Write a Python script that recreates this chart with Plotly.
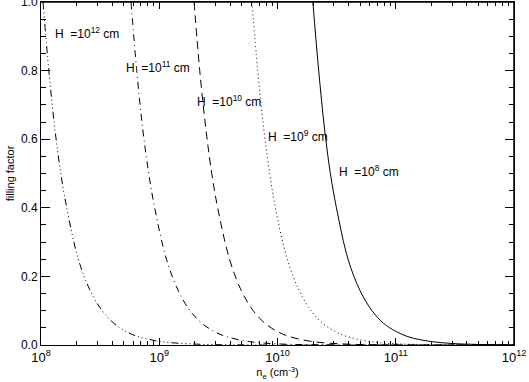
import plotly.graph_objects as go

# filling factor vs electron density, one curve per loop length H
h_labels = ["H\u00a0 =10<sup>8</sup> cm", "H\u00a0 =10<sup>9</sup> cm", "H\u00a0 =10<sup>10</sup> cm",
            "H\u00a0 =10<sup>11</sup> cm", "H\u00a0 =10<sup>12</sup> cm"]

ne_h8 = [1.99e10, 2.23e10, 2.5e10, 2.8e10, 3.15e10, 3.95e10, 5.0e10, 6.3e10, 7.9e10,
         1.0e11, 1.25e11, 1.58e11, 2.0e11, 3.0e11, 5.0e11, 1.0e12]
ff_h8 = [1.0, 0.80, 0.63, 0.50, 0.40, 0.25, 0.158, 0.10, 0.063,
         0.04, 0.025, 0.016, 0.010, 0.0044, 0.0016, 0.0004]

ne_h9 = [6.08e9, 6.8e9, 7.65e9, 8.6e9, 9.6e9, 1.21e10, 1.53e10, 1.92e10, 2.42e10,
         3.05e10, 3.84e10, 6.08e10, 1.0e11, 2.0e11, 1.0e12]
ff_h9 = [1.0, 0.80, 0.63, 0.50, 0.40, 0.25, 0.158, 0.10, 0.063,
         0.04, 0.025, 0.01, 0.0037, 0.0009, 0.00004]

ne_h10 = [1.97e9, 2.2e9, 2.48e9, 2.78e9, 3.12e9, 3.93e9, 4.95e9, 6.23e9, 7.85e9,
          9.9e9, 1.25e10, 1.97e10, 4.0e10, 1.0e11, 1.0e12]
ff_h10 = [1.0, 0.80, 0.63, 0.50, 0.40, 0.25, 0.158, 0.10, 0.063,
          0.04, 0.025, 0.01, 0.0024, 0.0004, 0.0]

ne_h11 = [5.77e8, 6.45e8, 7.25e8, 8.15e8, 9.15e8, 1.15e9, 1.45e9, 1.82e9, 2.3e9,
          2.9e9, 3.65e9, 5.77e9, 1.0e10, 3.0e10, 1.0e12]
ff_h11 = [1.0, 0.80, 0.63, 0.50, 0.40, 0.25, 0.158, 0.10, 0.063,
          0.04, 0.025, 0.01, 0.0033, 0.0004, 0.0]

ne_h12 = [1.04e8, 1.165e8, 1.31e8, 1.47e8, 1.65e8, 2.07e8, 2.61e8, 3.29e8, 4.14e8,
          5.2e8, 6.55e8, 1.04e9, 2.0e9, 5.0e9, 1.0e12]
ff_h12 = [1.0, 0.80, 0.63, 0.50, 0.40, 0.25, 0.158, 0.10, 0.063,
          0.04, 0.025, 0.01, 0.0027, 0.0004, 0.0]

x_tickvals = [1e8, 1e9, 1e10, 1e11, 1e12]
x_ticktext = ["10<sup>8</sup>", "10<sup>9</sup>", "10<sup>10</sup>", "10<sup>11</sup>", "10<sup>12</sup>"]
y_tickvals = [0.0, 0.2, 0.4, 0.6, 0.8, 1.0]
y_ticktext = ["0.0", "0.2", "0.4", "0.6", "0.8", "1.0"]

FONT = "Liberation Sans, Arial, sans-serif"

curves = [
    (ne_h8, ff_h8, "solid"),
    (ne_h9, ff_h9, "1px,3px"),
    (ne_h10, ff_h10, "8px,5px"),
    (ne_h11, ff_h11, "7px,4px,1px,4px"),
    (ne_h12, ff_h12, "7px,3px,1px,3px,1px,3px,1px,3px"),
]

fig = go.Figure()
for ne, ff, dash in curves:
    fig.add_trace(go.Scatter(x=ne, y=ff, mode="lines", line_shape="spline",
                             line=dict(color="black", width=1, dash=dash),
                             showlegend=False, hoverinfo="skip"))

# label positions (log10 ne, filling factor), left edge of each label
label_pos = [(10.5, 0.506), (9.9, 0.61), (9.3, 0.712), (8.7, 0.811), (8.1, 0.91)]
for text, (lx, ly) in zip(h_labels, label_pos):
    fig.add_annotation(x=lx, y=ly, xref="x", yref="y", text=text, showarrow=False,
                       xanchor="left", yanchor="middle",
                       font=dict(family=FONT, size=12, color="black"))

# top and right edges of the box, drawn as separate line shapes
fig.add_shape(type="line", xref="x domain", yref="y domain", x0=0, x1=1, y0=1, y1=1,
              line=dict(color="black", width=1.5))
fig.add_shape(type="line", xref="x domain", yref="y domain", x0=1, x1=1, y0=0, y1=1,
              line=dict(color="black", width=1.5))

minor_x = [m * 10 ** e for e in range(8, 12) for m in range(2, 10)]

fig.update_xaxes(type="log", range=[8, 12], tickvals=x_tickvals, ticktext=x_ticktext,
                 ticks="inside", ticklen=7, tickcolor="black", showline=True,
                 linecolor="black", linewidth=1, mirror="ticks", showgrid=False,
                 zeroline=False, automargin=False,
                 tickfont=dict(family=FONT, size=13, color="black"),
                 minor=dict(tickvals=minor_x, ticks="inside", ticklen=4, tickcolor="black", showgrid=False),
                 title=dict(text="n<sub>e</sub> (cm<sup>-3</sup>)", standoff=2,
                            font=dict(family=FONT, size=11, color="black")))
fig.update_yaxes(range=[0, 1], tickvals=y_tickvals, ticktext=y_ticktext,
                 ticks="inside", ticklen=9, tickcolor="black", showline=True,
                 linecolor="black", linewidth=1, mirror="ticks", showgrid=False,
                 zeroline=False, automargin=False, ticklabeloverflow="allow",
                 tickfont=dict(family=FONT, size=12, color="black"),
                 minor=dict(dtick=0.05, ticks="inside", ticklen=5, tickcolor="black", showgrid=False),
                 title=dict(text="filling factor", standoff=4,
                            font=dict(family=FONT, size=11, color="black")))

fig.update_layout(width=529, height=382, margin=dict(l=41, r=15, t=2, b=37),
                  paper_bgcolor="white", plot_bgcolor="white")

fig.write_html("out.html", config={"displayModeBar": False},
               post_script="document.body.style.margin='0';")
